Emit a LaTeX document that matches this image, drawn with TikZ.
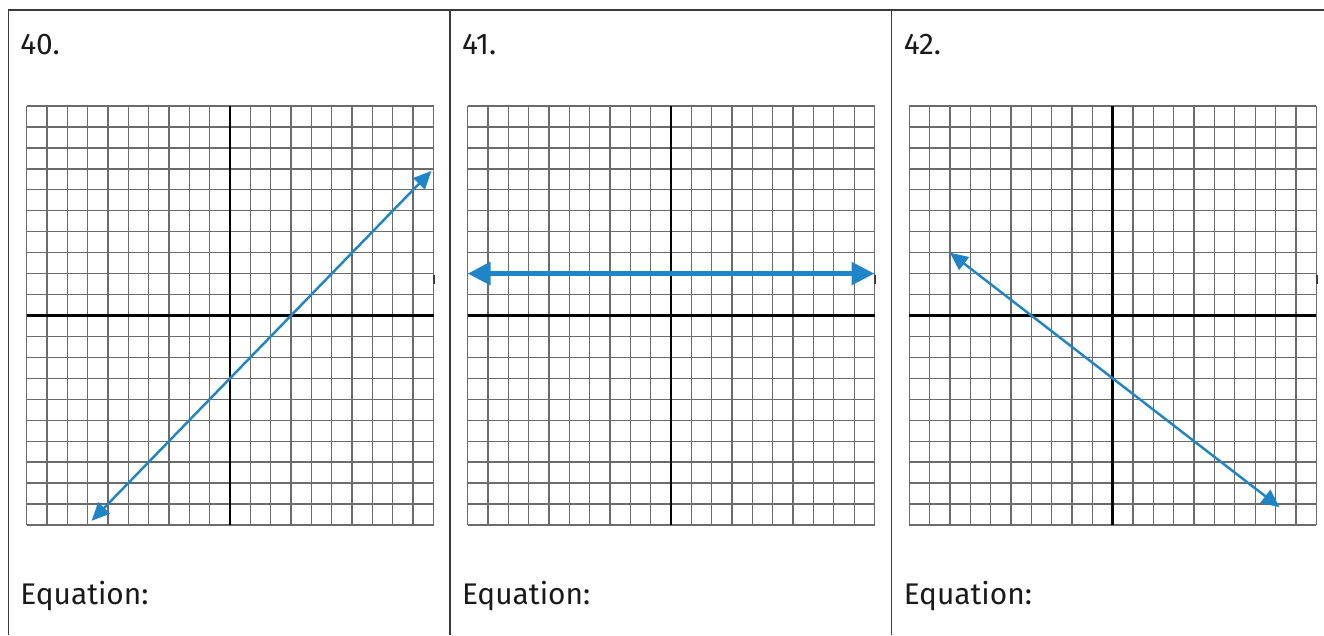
\documentclass[tikz,border=0pt]{standalone}
\usepackage{fontspec}
\setmainfont{Fira Sans}
\usepackage{xcolor}
\usepackage{tikz}
\usetikzlibrary{arrows.meta,positioning}
\definecolor{plotblue}{HTML}{1E86C8}
\definecolor{gridgray}{HTML}{6B6B6B}
\definecolor{rulegray}{HTML}{3A3A3A}
\definecolor{inkgray}{HTML}{1A1A1A}
\tikzset{
  border/.style   ={draw=rulegray,line width=0.75pt},
  paper/.style    ={draw=gridgray,line width=0.75pt},
  axisline/.style ={draw=black,line width=1.6pt},
  nick/.style     ={draw=rulegray,line width=1.1pt},
  qtext/.style    ={anchor=base west,inner sep=0pt,text=inkgray,
                    font=\fontsize{17}{20}\selectfont},
  thinline/.style ={{Triangle[length=3.6mm,width=3.2mm]}-{Triangle[length=3.6mm,width=3.2mm]},
                    line width=1.4pt,draw=plotblue,fill=plotblue},
  thickline/.style={{Triangle[length=4.6mm,width=4.4mm]}-{Triangle[length=4.6mm,width=4.4mm]},
                    line width=3.3pt,draw=plotblue,fill=plotblue},
  units/.style    ={xscale=0.407,yscale=0.419}
}
\newcommand{\graphpaper}{%
  \draw[paper] (-10,-10) grid (10,10);
  \draw[axisline] (-10,0) -- (10,0);
  \draw[axisline] (0,-10) -- (0,10);
  \draw[nick] (10.04,1.5) -- (10.04,1.95);
}

\begin{document}
\begin{tikzpicture}
  \useasboundingbox (0,0) rectangle (26.48,12.7);
  % frame of the three boxes
  \draw[border] (0.166,0) -- (0.166,12.5) -- (26.48,12.5);
  \draw[border] (9.0,0) -- (9.0,12.5);
  \draw[border] (17.834,0) -- (17.834,12.5);

  % problem numbers and answer lines
  \node[qtext] (num40) at (0.40,11.6) {40.};
  \node[qtext] (num41) at (9.234,11.6) {41.};
  \node[qtext] (num42) at (18.068,11.6) {42.};
  \node[qtext] (eq40) at (0.40,0.62) {Equation:};
  \node[qtext] (eq41) at (9.234,0.62) {Equation:};
  \node[qtext] (eq42) at (18.068,0.62) {Equation:};

  % 40: slope 1
  \begin{scope}[shift={(4.6,6.39)},units]
    \graphpaper
    \coordinate (lo40) at (-6.8,-9.8);
    \coordinate (hi40) at (9.9,6.9);
    \draw[thinline] (lo40) -- (hi40);
  \end{scope}

  % 41: horizontal
  \begin{scope}[shift={(13.42,6.39)},units]
    \graphpaper
    \coordinate (lo41) at (-10,2);
    \coordinate (hi41) at (10,2);
    \draw[thickline] (lo41) -- (hi41);
  \end{scope}

  % 42: slope -3/4
  \begin{scope}[shift={(22.254,6.39)},units]
    \graphpaper
    \coordinate (lo42) at (-8,3);
    \coordinate (hi42) at (8.2,-9.15);
    \draw[thinline] (lo42) -- (hi42);
  \end{scope}
\end{tikzpicture}
\end{document}
